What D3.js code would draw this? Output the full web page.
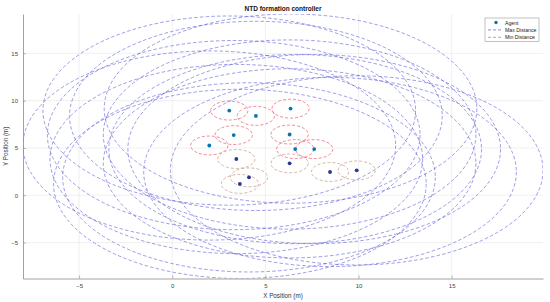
<!DOCTYPE html>
<html>
<head>
<meta charset="utf-8">
<script src="https://cdn.jsdelivr.net/npm/d3@7"></script>
<style>
  body { margin: 0; background: #fff; }
  svg { display: block; font-family: "Liberation Sans", Arial, sans-serif; }
</style>
</head>
<body>
<svg id="chart" width="550" height="302"></svg>
<script>
// agent positions (m)
var agentX = [3.06, 4.49, 3.30, 1.99, 6.35, 6.30, 6.60, 7.62, 3.44, 4.12, 3.63, 6.30, 8.47, 9.90];
var agentY = [8.95, 8.39, 6.36, 5.26, 9.16, 6.42, 4.88, 4.88, 3.83, 1.89, 1.20, 3.37, 2.46, 2.63];
var maxDist = 10;
var minDist = 1;
var xTicks = [-5, 0, 5, 10, 15];
var yTicks = [-5, 0, 5, 10, 15];
var legendLabels = ["Agent", "Max Distance", "Min Distance"];

var svg = d3.select("#chart");
var width = 550, height = 302;
var margin = {top: 14, right: 7, bottom: 23.5, left: 23};

var agents = agentX.map(function(x, i){ return {x: x, y: agentY[i]}; });

// axis tight around the max distance ellipses
var x = d3.scaleLinear()
	.domain([d3.min(agentX) - maxDist, d3.max(agentX) + maxDist])
	.range([margin.left, width - margin.right]);
var y = d3.scaleLinear()
	.domain([d3.min(agentY) - maxDist, d3.max(agentY) + maxDist])
	.range([height - margin.bottom, margin.top]);

svg.append("defs").append("clipPath").attr("id", "plotClip")
	.append("rect")
	.attr("x", margin.left).attr("y", margin.top)
	.attr("width", width - margin.left - margin.right)
	.attr("height", height - margin.top - margin.bottom);

// grid
var grid = svg.append("g").attr("stroke", "#e6e6e6").attr("stroke-width", 0.6);
grid.selectAll(".gx").data(xTicks).enter().append("line")
	.attr("x1", function(d){ return x(d); }).attr("x2", function(d){ return x(d); })
	.attr("y1", margin.top).attr("y2", height - margin.bottom);
grid.selectAll(".gy").data(yTicks).enter().append("line")
	.attr("y1", function(d){ return y(d); }).attr("y2", function(d){ return y(d); })
	.attr("x1", margin.left).attr("x2", width - margin.right);

var plot = svg.append("g").attr("clip-path", "url(#plotClip)");

// max distance ellipses
plot.append("g").selectAll("ellipse").data(agents).enter().append("ellipse")
	.attr("cx", function(d){ return x(d.x); })
	.attr("cy", function(d){ return y(d.y); })
	.attr("rx", function(d){ return x(d.x + maxDist) - x(d.x); })
	.attr("ry", function(d){ return y(d.y) - y(d.y + maxDist); })
	.attr("fill", "none")
	.attr("stroke", "#5a5ad8")
	.attr("stroke-opacity", 0.75)
	.attr("stroke-width", 0.8)
	.attr("stroke-dasharray", "3.5,2.2");

// min distance ellipses
plot.append("g").selectAll("ellipse").data(agents).enter().append("ellipse")
	.attr("cx", function(d){ return x(d.x); })
	.attr("cy", function(d){ return y(d.y); })
	.attr("rx", function(d){ return x(d.x + minDist) - x(d.x); })
	.attr("ry", function(d){ return y(d.y) - y(d.y + minDist); })
	.attr("fill", "none")
	.attr("stroke", function(d){ return d.y < 4 ? "#c9a48e" : "#f06a78"; })
	.attr("stroke-width", 0.8)
	.attr("stroke-dasharray", "3,2");

// agents
plot.append("g").selectAll("circle").data(agents).enter().append("circle")
	.attr("cx", function(d){ return x(d.x); })
	.attr("cy", function(d){ return y(d.y); })
	.attr("r", 1.9)
	.attr("fill", function(d){ return d.y < 4 ? "#2e3590" : "#0b72b0"; });

// axes
var axisColor = "#8a8a8a";
var xAxis = svg.append("g").attr("transform", "translate(0," + (height - margin.bottom) + ")")
	.call(d3.axisBottom(x).tickValues(xTicks).tickSizeInner(-3).tickSizeOuter(0).tickPadding(5));
var yAxis = svg.append("g").attr("transform", "translate(" + margin.left + ",0)")
	.call(d3.axisLeft(y).tickValues(yTicks).tickSizeInner(-3).tickSizeOuter(0).tickPadding(5));
[xAxis, yAxis].forEach(function(a){
	a.select(".domain").attr("stroke", axisColor).attr("stroke-width", 0.8);
	a.selectAll(".tick line").attr("stroke", axisColor).attr("stroke-width", 0.6);
	a.selectAll(".tick text").attr("fill", "#444").style("font-size", "6px")
		.style("font-family", "'Liberation Sans', Arial, sans-serif");
});

// title and labels
svg.append("text")
	.attr("x", (margin.left + width - margin.right) / 2).attr("y", 11)
	.attr("text-anchor", "middle")
	.style("font-size", "6.5px").style("font-weight", "bold").attr("fill", "#111")
	.text("NTD formation controller");
svg.append("text")
	.attr("x", (margin.left + width - margin.right) / 2).attr("y", 298)
	.attr("text-anchor", "middle")
	.style("font-size", "6.3px").attr("fill", "#333")
	.text("X Position (m)");
svg.append("text")
	.attr("transform", "translate(8," + ((margin.top + height - margin.bottom) / 2) + ") rotate(-90)")
	.attr("text-anchor", "middle")
	.style("font-size", "6.3px").attr("fill", "#333")
	.text("Y Position (m)");

// legend
var legend = svg.append("g").attr("transform", "translate(485,18)");
legend.append("rect").attr("width", 54).attr("height", 23.5)
	.attr("fill", "#fff").attr("stroke", "#9a9a9a").attr("stroke-width", 0.6);
var rows = legend.selectAll(".row").data(legendLabels).enter().append("g")
	.attr("transform", function(d, i){ return "translate(0," + (4.5 + i * 7.4) + ")"; });
rows.append("text").attr("x", 20).attr("y", 2)
	.style("font-size", "5.2px").attr("fill", "#222")
	.text(function(d){ return d; });
rows.filter(function(d, i){ return i === 0; }).append("circle")
	.attr("cx", 11).attr("cy", 0).attr("r", 1.7).attr("fill", "#0b72b0");
rows.filter(function(d, i){ return i > 0; }).append("line")
	.attr("x1", 3).attr("x2", 18).attr("y1", 0).attr("y2", 0)
	.attr("stroke", function(d, i){ return i === 0 ? "#6a6ae0" : "#f06a78"; })
	.attr("stroke-width", 0.8)
	.attr("stroke-dasharray", "3,2");
</script>
</body>
</html>
